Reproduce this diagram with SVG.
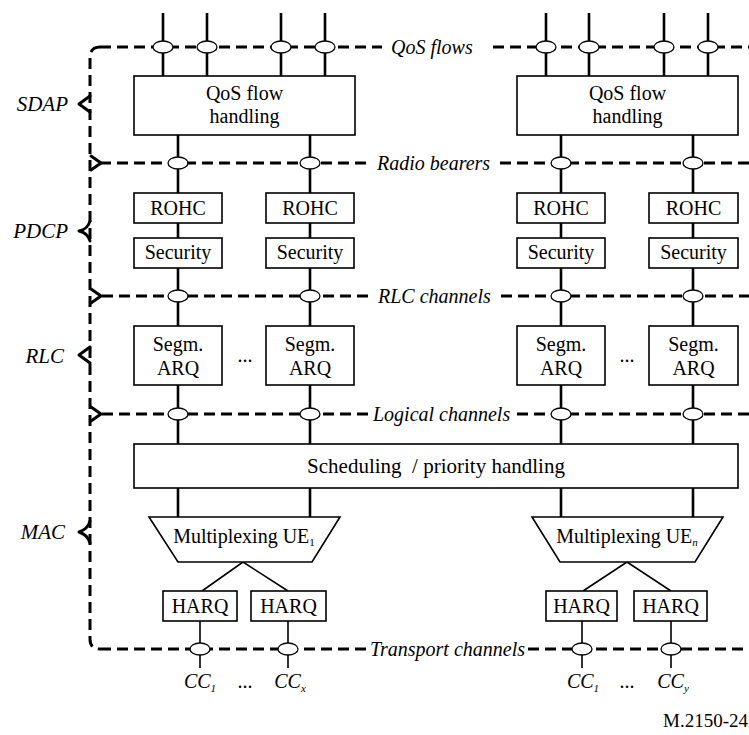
<svg xmlns="http://www.w3.org/2000/svg" width="749" height="735" viewBox="0 0 749 735" font-family="'Liberation Serif','Times New Roman',Tinos,'DejaVu Serif',serif">
<style>
.bg{fill:#fff}
.box{fill:#fff;stroke:#000;stroke-width:1.6}
.ln{fill:none;stroke:#000;stroke-width:2.6}
.thin{fill:none;stroke:#000;stroke-width:1.6}
.dash{fill:none;stroke:#000;stroke-width:3;stroke-dasharray:11 6}
.tip{fill:none;stroke:#000;stroke-width:3;stroke-linecap:round;stroke-linejoin:round}
.el{fill:#fff;stroke:#000;stroke-width:1.3}
text{font-family:'Liberation Serif','Times New Roman',Tinos,'DejaVu Serif',serif;fill:#000}
.t{font-size:20px;text-anchor:middle}
.tb{font-size:21px;text-anchor:middle}
.lab{font-size:20px;font-style:italic}
.lay{font-size:21px;font-style:italic;text-anchor:end}
</style>
<rect class="bg" x="0" y="0" width="749" height="735"/>

<g id="connectors">
  <path class="ln" d="M163,13V76M207,13V76M281,13V76M325,13V76M546,13V76M589,13V76M664,13V76M708,13V76"/>
  <path class="ln" d="M178,135V193M310,135V193M561,135V193M693,135V193"/>
  <path class="ln" d="M178,223V238M310,223V238M561,223V238M693,223V238"/>
  <path class="ln" d="M178,268V326M310,268V326M561,268V326M693,268V326"/>
  <path class="ln" d="M178,385V444M310,385V444M561,385V444M693,385V444"/>
  <path class="ln" d="M178,488V517M310,488V517M561,488V517M693,488V517"/>
  <path class="thin" d="M202,591L243,562L288,591M583,591L627,562L671,591"/>
  <path class="thin" d="M200,621V668M288,621V668M582,621V668M671,621V668"/>

  <path class="dash" d="M100,47H382M493,47H749"/>
  <path class="dash" d="M100,163H372M500,163H749"/>
  <path class="dash" d="M102,296H372M501,296H749"/>
  <path class="dash" d="M102,414H370M517,414H749"/>
  <path class="dash" d="M100,649H366M528,649H749"/>

  <path class="dash" d="M100,47Q90,47 90,58V639Q90,649 100,649"/>
  <path class="tip" d="M90,96L79,104L90,112"/>
  <path class="tip" d="M90,221Q88,229 79,231Q88,233 90,241"/>
  <path class="tip" d="M90,347L79,355L90,363"/>
  <path class="tip" d="M90,521Q88,529 79,532Q88,535 90,543"/>
  <path class="tip" d="M91,156L101,163L91,170"/>
  <path class="tip" d="M91,289L101,296L91,303"/>
  <path class="tip" d="M91,407L101,414L91,421"/>

  <g class="el">
    <ellipse cx="163" cy="47" rx="10" ry="6"/><ellipse cx="207" cy="47" rx="10" ry="6"/>
    <ellipse cx="281" cy="47" rx="10" ry="6"/><ellipse cx="325" cy="47" rx="10" ry="6"/>
    <ellipse cx="546" cy="47" rx="10" ry="6"/><ellipse cx="589" cy="47" rx="10" ry="6"/>
    <ellipse cx="664" cy="47" rx="10" ry="6"/><ellipse cx="708" cy="47" rx="10" ry="6"/>
    <ellipse cx="178" cy="163" rx="10" ry="6"/><ellipse cx="310" cy="163" rx="10" ry="6"/>
    <ellipse cx="561" cy="163" rx="10" ry="6"/><ellipse cx="693" cy="163" rx="10" ry="6"/>
    <ellipse cx="178" cy="296" rx="10" ry="6"/><ellipse cx="310" cy="296" rx="10" ry="6"/>
    <ellipse cx="561" cy="296" rx="10" ry="6"/><ellipse cx="693" cy="296" rx="10" ry="6"/>
    <ellipse cx="178" cy="414" rx="10" ry="6"/><ellipse cx="310" cy="414" rx="10" ry="6"/>
    <ellipse cx="561" cy="414" rx="10" ry="6"/><ellipse cx="693" cy="414" rx="10" ry="6"/>
    <ellipse cx="200" cy="649" rx="10" ry="6"/><ellipse cx="288" cy="649" rx="10" ry="6"/>
    <ellipse cx="582" cy="649" rx="10" ry="6"/><ellipse cx="671" cy="649" rx="10" ry="6"/>
  </g>
</g>

<g id="channel-labels">
  <text class="lab" x="391" y="54">QoS flows</text>
  <text class="lab" x="377" y="170">Radio bearers</text>
  <text class="lab" x="378" y="303">RLC channels</text>
  <text class="lab" x="373" y="421">Logical channels</text>
  <text class="lab" x="370" y="656">Transport channels</text>
</g>

<g id="layer-labels">
  <text class="lay" x="68" y="111">SDAP</text>
  <text class="lay" x="68" y="238">PDCP</text>
  <text class="lay" x="64" y="363">RLC</text>
  <text class="lay" x="65" y="539">MAC</text>
</g>

<g id="qos1"><rect class="box" x="134" y="76" width="221" height="59"/><text class="t" x="244.5" y="100">QoS flow</text><text class="t" x="244.5" y="123">handling</text></g>
<g id="qos2"><rect class="box" x="517" y="76" width="221" height="59"/><text class="t" x="627.5" y="100">QoS flow</text><text class="t" x="627.5" y="123">handling</text></g>

<g id="rohc1"><rect class="box" x="134" y="193" width="88" height="30"/><text class="t" x="178" y="215">ROHC</text></g>
<g id="rohc2"><rect class="box" x="266" y="193" width="88" height="30"/><text class="t" x="310" y="215">ROHC</text></g>
<g id="rohc3"><rect class="box" x="517" y="193" width="88" height="30"/><text class="t" x="561" y="215">ROHC</text></g>
<g id="rohc4"><rect class="box" x="649" y="193" width="89" height="30"/><text class="t" x="693.5" y="215">ROHC</text></g>

<g id="sec1"><rect class="box" x="134" y="238" width="88" height="30"/><text class="t" x="178" y="259">Security</text></g>
<g id="sec2"><rect class="box" x="266" y="238" width="88" height="30"/><text class="t" x="310" y="259">Security</text></g>
<g id="sec3"><rect class="box" x="517" y="238" width="88" height="30"/><text class="t" x="561" y="259">Security</text></g>
<g id="sec4"><rect class="box" x="649" y="238" width="89" height="30"/><text class="t" x="693.5" y="259">Security</text></g>

<g id="seg1"><rect class="box" x="134" y="326" width="88" height="59"/><text class="t" x="178" y="351">Segm.</text><text class="t" x="178" y="375">ARQ</text></g>
<g id="seg2"><rect class="box" x="266" y="326" width="88" height="59"/><text class="t" x="310" y="351">Segm.</text><text class="t" x="310" y="375">ARQ</text></g>
<g id="seg3"><rect class="box" x="517" y="326" width="88" height="59"/><text class="t" x="561" y="351">Segm.</text><text class="t" x="561" y="375">ARQ</text></g>
<g id="seg4"><rect class="box" x="649" y="326" width="89" height="59"/><text class="t" x="693.5" y="351">Segm.</text><text class="t" x="693.5" y="375">ARQ</text></g>
<g id="dots-rlc"><text class="t" x="245" y="362">...</text><text class="t" x="627" y="362">...</text></g>

<g id="sched"><rect class="box" x="134" y="444" width="604" height="44"/><text class="tb" x="436" y="473" xml:space="preserve">Scheduling  / priority handling</text></g>

<g id="mux1"><path class="box" d="M149,517H340L312,562H178Z"/><text class="t" x="244" y="543">Multiplexing UE<tspan font-size="11" dy="3">1</tspan></text></g>
<g id="mux2"><path class="box" d="M532,517H723L695,562H560Z"/><text class="t" x="627" y="543">Multiplexing UE<tspan font-size="11" font-style="italic" dy="3">n</tspan></text></g>

<g id="harq1"><rect class="box" x="163" y="591" width="74" height="30"/><text class="t" x="200" y="613">HARQ</text></g>
<g id="harq2"><rect class="box" x="251" y="591" width="75" height="30"/><text class="t" x="288.5" y="613">HARQ</text></g>
<g id="harq3"><rect class="box" x="546" y="591" width="71" height="30"/><text class="t" x="581.5" y="613">HARQ</text></g>
<g id="harq4"><rect class="box" x="634" y="591" width="73" height="30"/><text class="t" x="670.5" y="613">HARQ</text></g>

<g id="cc-labels" font-style="italic">
  <text class="t" x="200" y="688">CC<tspan font-size="11" dy="4">1</tspan></text>
  <text class="t" x="245" y="688" font-style="normal">...</text>
  <text class="t" x="290" y="688">CC<tspan font-size="11" dy="4">x</tspan></text>
  <text class="t" x="583" y="688">CC<tspan font-size="11" dy="4">1</tspan></text>
  <text class="t" x="627" y="688" font-style="normal">...</text>
  <text class="t" x="673" y="688">CC<tspan font-size="11" dy="4">y</tspan></text>
</g>

<g id="fig-id"><text x="748" y="727" font-size="19" text-anchor="end">M.2150-24</text></g>
</svg>
